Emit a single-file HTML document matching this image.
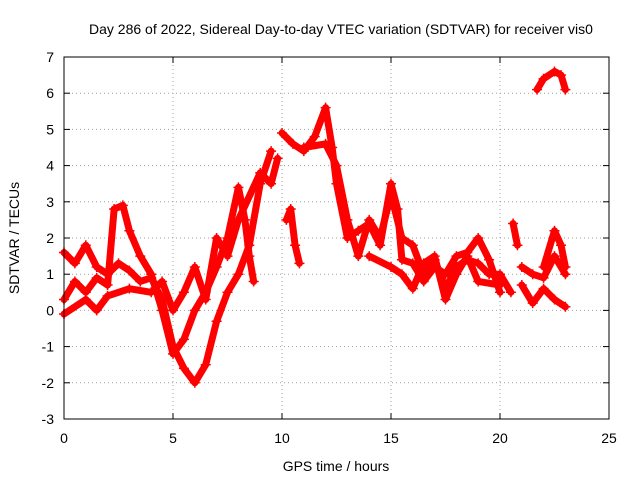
<!DOCTYPE html>
<html><head><meta charset="utf-8"><style>
body{margin:0;background:#fff}
svg{display:block;font-family:"Liberation Sans",sans-serif}
</style></head><body>
<svg id="chart" width="640" height="480" viewBox="0 0 640 480">
<rect width="640" height="480" fill="#fff"/>
<text x="341" y="34" font-size="14" text-anchor="middle">Day 286 of 2022, Sidereal Day-to-day VTEC variation (SDTVAR) for receiver vis0</text>
<text x="336" y="471" font-size="14" text-anchor="middle">GPS time / hours</text>
<text transform="translate(19,238) rotate(-90)" font-size="14" text-anchor="middle">SDTVAR / TECUs</text>
<g id="grid"></g>
<g id="ticks"></g>
<g id="series"></g>
<rect x="64" y="57" width="545" height="362" fill="none" stroke="#000" stroke-width="1"/>
</svg>
<script>
const xTicks=[0,5,10,15,20,25];
const yTicks=[-3,-2,-1,0,1,2,3,4,5,6,7];
const seriesA=[[0,1.6],[0.5,1.3],[1,1.8],[1.5,1.2],[2,1.0],[2.5,1.3],[3,1.1],[3.5,0.8],[4,0.9],[4.5,0.3],[5,-1.0],[5.5,-1.6],[6,-2.0],[6.5,-1.5],[7,-0.3],[7.5,0.5],[8,1.0],[8.5,1.8],[9,3.5],[9.5,4.4]];
const seriesB=[[0,0.3],[0.5,0.8],[1,0.5],[1.5,0.9],[2,0.7],[2.3,2.8],[2.7,2.9],[3,2.2],[3.5,1.5],[4,1.0],[4.5,0.0],[5,-1.2],[5.5,-0.8],[6,0.0],[6.5,0.5],[7,1.2],[7.5,2.0],[8,3.4],[8.3,2.5],[8.5,1.5],[8.7,0.8]];
const seriesC=[[0,-0.1],[1,0.3],[1.5,0.0],[2,0.4],[3,0.6],[4,0.5],[4.5,0.8],[5,0.0],[5.5,0.5],[6,1.2],[6.5,0.3],[7,2.0],[7.5,1.5],[8,2.5],[9,3.8],[9.5,3.5],[9.8,4.2]];
const seriesD=[[10,4.9],[10.5,4.6],[11,4.4],[11.5,4.8],[12,5.6],[12.3,4.5],[12.5,3.5],[13,2.0],[13.5,2.2],[14,2.4],[14.5,1.8],[15,3.5],[15.3,2.8],[15.5,1.4],[16,1.3],[16.5,0.8],[17,1.2],[17.5,1.0],[18,1.5],[18.5,1.6],[19,2.0],[19.5,1.4],[20,0.5]];
const seriesE=[[10.2,2.5],[10.4,2.8],[10.6,1.8],[10.8,1.3]];
const seriesF=[[11,4.5],[12,4.6],[12.5,4.0],[13,2.5],[13.5,1.5],[14,2.5],[14.5,2.0],[15,3.2],[15.5,2.0],[16,1.8],[16.5,1.0],[17,1.4],[17.5,0.6],[18,1.2],[18.5,1.4],[19,1.3],[19.5,1.0],[20,1.0],[20.5,0.5]];
const seriesG=[[14,1.5],[15,1.2],[15.5,1.0],[16,0.6],[16.5,1.3],[17,1.5],[17.5,0.3],[18,1.0],[18.5,1.5],[19,0.8],[20,0.7]];
const seriesH=[[20.6,2.4],[20.8,1.8]];
const seriesI=[[21,1.2],[21.5,1.0],[22,0.9],[22.5,1.5],[23,1.0]];
const seriesJ=[[21,0.7],[21.5,0.2],[22,0.6],[22.5,0.3],[23,0.1]];
const seriesK=[[22,1.2],[22.5,2.2],[22.8,1.8],[23,1.2]];
const seriesL=[[21.7,6.1],[22,6.4],[22.5,6.6],[22.8,6.5],[23,6.1]];
const allSeries=[seriesA,seriesB,seriesC,seriesD,seriesE,seriesF,seriesG,seriesH,seriesI,seriesJ,seriesK,seriesL];

const NS="http://www.w3.org/2000/svg";
const X0=64,X1=609,Y0=419,Y1=57;
const sx=v=>X0+(v-0)/(25-0)*(X1-X0);
const sy=v=>Y0-(v+3)/(7+3)*(Y0-Y1);
const grid=document.getElementById('grid'),ticks=document.getElementById('ticks'),ser=document.getElementById('series');
function mk(t,a,p){const e=document.createElementNS(NS,t);for(const k in a)e.setAttribute(k,a[k]);p.appendChild(e);return e;}
xTicks.forEach(t=>{
 const x=sx(t);
 if(t>0&&t<25){const g=mk('line',{x1:x,x2:x,y1:Y1,y2:Y0,stroke:'#a0a0a0','stroke-dasharray':'1,3'},grid);
 
 }
 mk('line',{x1:x,x2:x,y1:Y0,y2:Y0-6,stroke:'#000'},ticks);
 mk('line',{x1:x,x2:x,y1:Y1,y2:Y1+6,stroke:'#000'},ticks);
 const l=mk('text',{x:x,y:Y0+24,'font-size':'14','text-anchor':'middle'},ticks);
 l.textContent=t;
 
 
});
yTicks.forEach(t=>{
 const y=sy(t);
 if(t>-3&&t<7){const g=mk('line',{x1:X0,x2:X1,y1:y,y2:y,stroke:'#a0a0a0','stroke-dasharray':'1,3'},grid);
 
 }
 mk('line',{x1:X0,x2:X0+6,y1:y,y2:y,stroke:'#000'},ticks);
 mk('line',{x1:X1,x2:X1-6,y1:y,y2:y,stroke:'#000'},ticks);
 const l=mk('text',{x:X0-10,y:y+5,'font-size':'14','text-anchor':'end'},ticks);
 l.textContent=t;
 
 
});
allSeries.forEach((s,i)=>{
 const pts=s.map(p=>sx(p[0])+','+sy(p[1])).join(' ');
 const pl=mk('polyline',{points:pts,fill:'none',stroke:'#ff0000','stroke-width':'7','stroke-linejoin':'round','stroke-linecap':'round'},ser);
 
 
 s.forEach(p=>{
  const x=sx(p[0]),y=sy(p[1]);
  const m=mk('path',{d:`M${x-5},${y}H${x+5}M${x},${y-5}V${y+5}`,stroke:'#ff0000','stroke-width':'1.5'},ser);
  
  
 });
});
</script>
</body></html>
